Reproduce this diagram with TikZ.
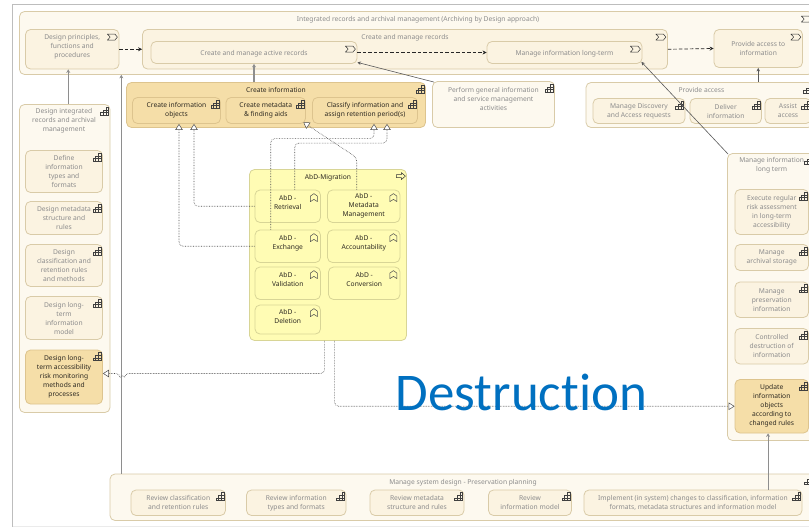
\documentclass[tikz,border=0pt]{standalone}
\usepackage{fontspec}
\setmainfont{Noto Sans}
\newfontfamily\bigfont[Ligatures=NoCommon]{Carlito}
\usetikzlibrary{arrows.meta}
\definecolor{paleback}{HTML}{FDF9EF}
\definecolor{palebox}{HTML}{FBF3E1}
\definecolor{paleline}{HTML}{D9CBA8}
\definecolor{paletext}{HTML}{8C8C8C}
\definecolor{hotback}{HTML}{F5DEA8}
\definecolor{hotline}{HTML}{DDC48E}
\definecolor{hottext}{HTML}{2E2A22}
\definecolor{migback}{HTML}{FFFCB4}
\definecolor{migline}{HTML}{D8D596}
\definecolor{linegray}{HTML}{8E8E8E}
\definecolor{framegray}{HTML}{BDBDBD}
\definecolor{bluetext}{HTML}{0070C0}
\tikzset{
  every node/.style={font=\fontsize{6.7}{9}\selectfont, align=center, inner sep=0pt, execute at begin node={\rule{0pt}{7pt}}},
  outer/.style={draw=paleline, fill=paleback, rounded corners=5pt, line width=.8pt},
  proc/.style={draw=paleline, fill=palebox, rounded corners=5pt, line width=.8pt, text=paletext},
  hot/.style={draw=hotline, fill=hotback, rounded corners=5pt, line width=.8pt, text=hottext},
  mig/.style={draw=migline, fill=migback, rounded corners=5pt, line width=.8pt, text=hottext},
  title/.style={text=paletext},
  hottitle/.style={text=hottext},
  up/.style={text depth=#1},
  flow/.style={draw=black!85, dash pattern=on 3.5pt off 2pt, line width=.7pt, -{Stealth[length=4pt,width=4pt]}},
  serve/.style={draw=linegray, line width=1.2pt, -{Stealth[length=3.5pt,width=4pt]}},
  thin line/.style={draw=black!65, line width=.6pt, -{Stealth[length=3.5pt,width=3.5pt]}},
  real/.style={draw=black!70, densely dotted, line width=.6pt, rounded corners=4pt,
    -{Triangle[open,fill=white,length=6pt,width=7.5pt,line width=.5pt]}},
  stairs/.pic={
    \draw[black!75, line width=.4pt] (-4,4) rectangle (4,1.3) (-1.3,4) -- (-1.3,-1.3) -- (4,-1.3) -- (4,1.3)
      (1.3,4) -- (1.3,-4) -- (4,-4) -- (4,-1.3) (-1.3,1.3) -- (1.3,1.3);
  },
  stream/.pic={
    \draw[black!80, line width=.5pt, line join=round] (-5,-3) -- (2.5,-3) -- (5,0) -- (2.5,3) -- (-5,3) -- (-2.2,0) -- cycle;
  },
  bookmark/.pic={
    \draw[black!70, line width=.5pt, line join=round] (-3.5,-1.5) -- (0,-4) -- (3.5,-1.5) -- (3.5,4) -- (0,1.8) -- (-3.5,4) -- cycle;
  },
  process/.pic={
    \draw[black!80, line width=.5pt, line join=round] (-4.5,-1.5) -- (.5,-1.5) -- (.5,-3.5) -- (4.5,0) -- (.5,3.5) -- (.5,1.5) -- (-4.5,1.5) -- cycle;
  },
}
\begin{document}
\begin{tikzpicture}[x=1pt,y=-1pt]
\clip (0,0) rectangle (809,527);
\fill[white] (0,0) rectangle (809,527);
\draw[framegray, line width=1.2pt] (12.5,527) -- (12.5,4.5) -- (809,4.5);
\draw[black!8, line width=.8pt] (12.5,526.5) -- (809,526.5);

\node[outer, minimum width=793.5, minimum height=63] (top) at (416.25,43) {};
\node[title] (topT) at (418,18.5) {Integrated records and archival management (Archiving by Design approach)};
\node[proc, minimum width=93.5, minimum height=39.5, up=6] (dprin) at (72.25,49.25) {Design principles,\\functions and\\procedures};
\node[outer, fill=palebox, minimum width=525, minimum height=39.5] (crec) at (405,49.25) {};
\node[title] (crecT) at (405,37) {Create and manage records};
\node[proc, minimum width=206, minimum height=22] (active) at (254,52.5) {Create and manage active records};
\node[proc, minimum width=155, minimum height=22] (mlong) at (564.5,52.5) {Manage information long-term};
\node[proc, minimum width=88.5, minimum height=38] (pinfo) at (758.25,48.5) {Provide access to\\information};

\node[hot, minimum width=299, minimum height=45] (cinfo) at (276,105) {};
\node[hottitle] (cinfoT) at (276,89.5) {Create information};
\node[hot, minimum width=88, minimum height=26, up=3] (cobj) at (176.5,110.5) {Create information\\objects};
\node[hot, minimum width=79.5, minimum height=26, up=3] (cmeta) at (265.75,110.5) {Create metadata\\\& finding aids};
\node[hot, minimum width=105, minimum height=26, up=3] (cls) at (365,110.5) {Classify information and\\assign retention period(s)};
\node[outer, text=paletext, minimum width=122, minimum height=46, up=12] (perf) at (493.5,104.5) {Perform general information\\and service management\\activities};

\node[outer, minimum width=227, minimum height=45] (pacc) at (699.5,105) {};
\node[title] (paccT) at (701.5,89.5) {Provide access};
\node[proc, minimum width=92, minimum height=25] (mdisc) at (639,111) {Manage Discovery\\and Access requests};
\node[proc, minimum width=71.5, minimum height=25] (deliv) at (725.75,111) {Deliver\\information};
\node[proc, minimum width=46, minimum height=25] (assist) at (788,111) {Assist\\access};

\node[outer, minimum width=90.5, minimum height=308] (dint) at (64.75,258.5) {};
\node[title] (dintT) at (64,121) {Design integrated\\records and archival\\management};
\node[proc, minimum width=77, minimum height=42] (ddef) at (64,171.5) {Define\\information\\types and\\formats};
\node[proc, minimum width=77, minimum height=33] (dmeta) at (64,218) {Design metadata\\structure and\\rules};
\node[proc, minimum width=77, minimum height=42] (dcls) at (64,265.5) {Design\\classification and\\retention rules\\and methods};
\node[proc, minimum width=77, minimum height=43] (dmodel) at (64,318) {Design long-\\term\\information\\model};
\node[hot, minimum width=77, minimum height=54] (drisk) at (64,377) {Design long-\\term accessibility\\risk monitoring\\methods and\\processes};

\node[mig, minimum width=157, minimum height=171] (mig) at (328,255) {};
\node[hottitle] (migT) at (328,176.5) {AbD-Migration};
\node[mig, minimum width=65.5, minimum height=32.5, up=7] (ret) at (287.75,206.25) {AbD -\\Retrieval};
\node[mig, minimum width=72.5, minimum height=32.5] (meta) at (363.75,206.25) {AbD -\\Metadata\\Management};
\node[mig, minimum width=65.5, minimum height=32.5, up=7] (exch) at (287.75,246.25) {AbD -\\Exchange};
\node[mig, minimum width=72.5, minimum height=32.5, up=7] (acc) at (363.75,246.25) {AbD -\\Accountability};
\node[mig, minimum width=65.5, minimum height=32.5, up=7] (valid) at (287.75,283.25) {AbD -\\Validation};
\node[mig, minimum width=71.5, minimum height=32.5, up=7] (conv) at (364.25,283.25) {AbD -\\Conversion};
\node[mig, minimum width=65.5, minimum height=29, up=6] (del) at (287.75,319.5) {AbD -\\Deletion};

\node[outer, minimum width=86.5, minimum height=287] (mil) at (770.75,297) {};
\node[title] (milT) at (771.7,165.5) {Manage information\\long term};
\node[proc, minimum width=73.5, minimum height=45] (exec) at (771.75,212) {Execute regular\\risk assessment\\in long-term\\accessibility};
\node[proc, minimum width=73.5, minimum height=26] (arch) at (771.75,257.5) {Manage\\archival storage};
\node[proc, minimum width=73.5, minimum height=35.5] (pres) at (771.75,299.75) {Manage\\preservation\\information};
\node[proc, minimum width=73.5, minimum height=35.5] (ctrl) at (771.75,346.25) {Controlled\\destruction of\\information};
\node[hot, minimum width=73.5, minimum height=53.5] (update) at (771.75,406.25) {Update\\information\\objects\\according to\\changed rules};

\node[outer, minimum width=704, minimum height=46.5] (sys) at (462,497.25) {};
\node[title] (sysT) at (463,482) {Manage system design - Preservation planning};
\node[proc, minimum width=94.5, minimum height=25.5] (rcls) at (178.25,502.75) {Review classification\\and retention rules};
\node[proc, minimum width=99.5, minimum height=25.5] (rtyp) at (296.25,502.75) {Review information\\types and formats};
\node[proc, minimum width=94, minimum height=25.5] (rmeta) at (417,502.75) {Review metadata\\structure and rules};
\node[proc, minimum width=83, minimum height=25.5] (rmod) at (530,502.75) {Review\\information model};
\node[proc, minimum width=218, minimum height=25.5] (impl) at (693,502.75) {Implement (in system) changes to classification, information\\formats, metadata structures and information model};

\foreach \n in {cinfo,cobj,cmeta,cls,perf,pacc,mdisc,deliv,assist,dint,ddef,dmeta,dcls,dmodel,drisk,mil,exec,arch,pres,ctrl,update,sys,rcls,rtyp,rmeta,rmod,impl}
\pic at ([shift={(-6pt,-7pt)}]\n.north east) {stairs};
\foreach \n in {top,dprin,crec,active,mlong,pinfo}
\pic at ([shift={(-7pt,-8pt)}]\n.north east) {stream};
\foreach \n in {ret,meta,exch,acc,valid,conv,del}
\pic at ([shift={(-7pt,-8pt)}]\n.north east) {bookmark};
\pic at ([shift={(-6pt,-7pt)}]mig.north east) {process};

\draw[flow] (dprin.east) -- (crec.west);
\draw[flow] (active.east) -- (mlong.west);
\draw[flow] (crec.east) -- (pinfo.west);
\draw[serve] ([xshift=-4pt]dprin.south |- dint.north) -- ([xshift=-4pt]dprin.south);
\draw[serve] ([xshift=11.7pt]sys.north west) -- ([xshift=11.7pt]sys.north west |- top.south);
\draw[serve] (active.south |- cinfo.north) -- (active.south);
\draw[thin line] ([shift={(2pt,-1pt)}]perf.north west) -- ([yshift=1.5pt]active.south east);
\draw[thin line] (pinfo.south |- pacc.north) -- (pinfo.south);
\draw[thin line] ([shift={(1pt,-1pt)}]mil.north west) -- ([shift={(-1pt,2pt)}]mlong.south east);
\draw[serve, line width=.9pt] ([xshift=-3.7pt]update.south |- impl.north) -- ([xshift=-3.7pt]update.south);
\draw[real] (exch.west) -| ([xshift=2.5pt]cobj.south);
\draw[real] (ret.west) -| ([xshift=17.5pt]cobj.south);
\draw[real] ([xshift=-17pt]exch.north) -- ++(0,-91) -| ([xshift=9pt]cls.south);
\draw[real] ([xshift=7pt]ret.north) -- ++(0,-46.5) -| ([xshift=22pt]cls.south);
\draw[real] ([xshift=-7pt]meta.north) -- ++(0,-32) -- ([shift={(-2.5pt,1.5pt)}]cmeta.south east);
\coordinate (hopr) at (124.5,373.5);
\coordinate (hopl) at (120,373.5);
\draw[real] ([xshift=75.5pt]mig.south west) |- (hopr) to[bend left=90] (hopl) -- ([yshift=3.5pt]drisk.east);
\draw[real] ([xshift=85.5pt]mig.south west) |- (update.west);
\node[anchor=base west, text=bluetext, font=\bigfont\fontsize{53}{55}\selectfont] (destr) at (395.5,410.5) {Destruction};
\end{tikzpicture}
\end{document}
